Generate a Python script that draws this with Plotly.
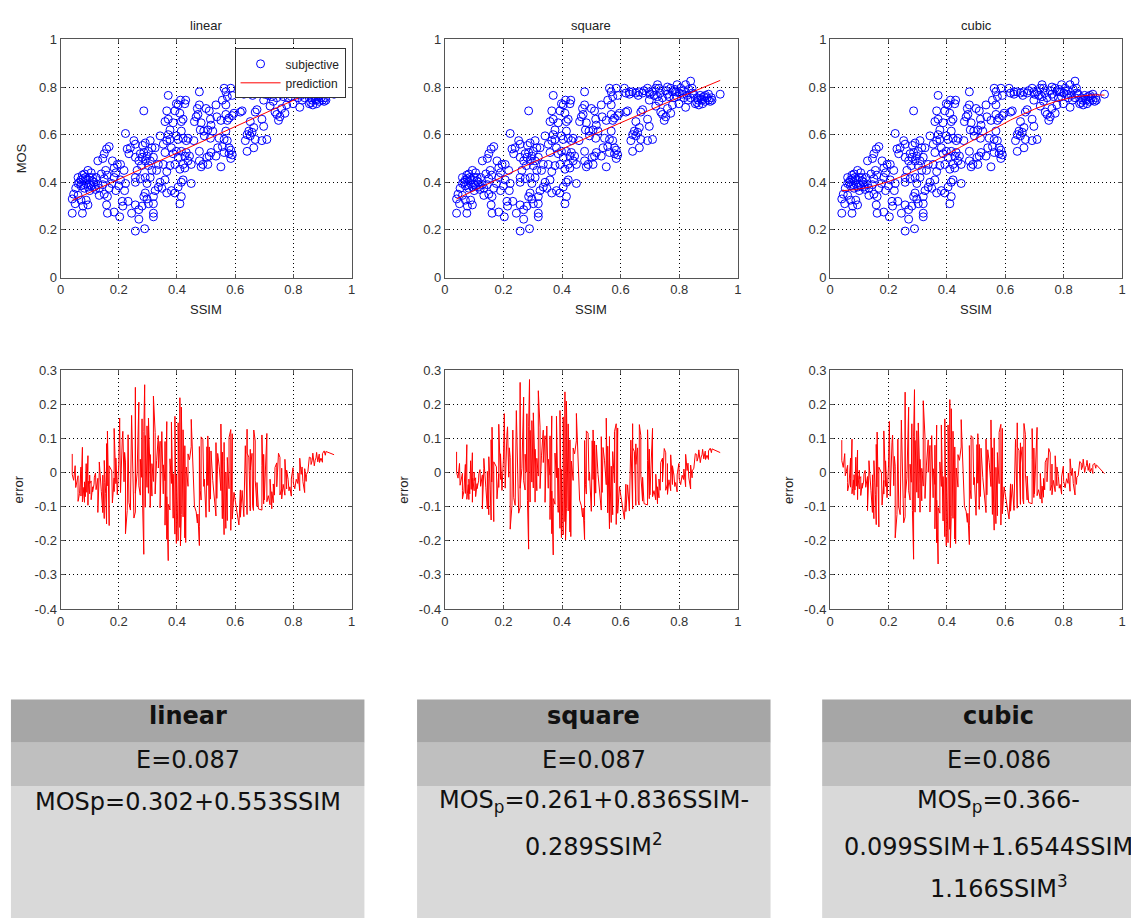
import numpy as np
import plotly.graph_objects as go

# ---------------- data ----------------
ssim = [
    0.040, 0.040, 0.050, 0.045, 0.060, 0.070, 0.077, 0.075, 0.094, 0.088,
    0.065, 0.077, 0.088, 0.100, 0.094, 0.082, 0.105, 0.110, 0.116, 0.122,
    0.070, 0.060, 0.082, 0.100, 0.128, 0.133, 0.052,
    0.070, 0.080, 0.090, 0.100, 0.110, 0.085, 0.095, 0.115, 0.120, 0.060, 0.075, 0.105,
    0.128, 0.145, 0.150, 0.158, 0.167, 0.140, 0.155, 0.150, 0.160, 0.145,
    0.133, 0.150, 0.161, 0.158, 0.161, 0.167, 0.176, 0.184, 0.190, 0.184,
    0.178, 0.195, 0.190, 0.200, 0.206, 0.184, 0.203, 0.212, 0.214, 0.206,
    0.218, 0.223, 0.223, 0.229, 0.235, 0.240, 0.220, 0.232, 0.244, 0.252,
    0.257, 0.257, 0.257, 0.263, 0.257, 0.269, 0.257, 0.269, 0.280, 0.289,
    0.286, 0.257, 0.269, 0.274, 0.280, 0.286, 0.291, 0.297, 0.302, 0.308,
    0.302, 0.278, 0.282, 0.291, 0.308, 0.314, 0.319, 0.314, 0.308, 0.291,
    0.274, 0.297, 0.291, 0.297, 0.286, 0.302, 0.319, 0.319, 0.319, 0.319,
    0.325, 0.336, 0.342, 0.330, 0.336, 0.325, 0.342, 0.353, 0.359, 0.353,
    0.359, 0.365, 0.348, 0.365,
    0.370, 0.365, 0.359, 0.370, 0.376, 0.365, 0.376, 0.370, 0.387, 0.393,
    0.398, 0.404, 0.410, 0.415, 0.421, 0.412, 0.427, 0.430, 0.415, 0.398,
    0.404, 0.421, 0.432, 0.438, 0.381, 0.387, 0.398, 0.404, 0.415, 0.427,
    0.432, 0.438, 0.443, 0.421, 0.410, 0.393, 0.376, 0.381, 0.393, 0.404,
    0.415, 0.421, 0.410, 0.415, 0.427, 0.449, 0.449, 0.458, 0.460, 0.466,
    0.470, 0.472, 0.477, 0.477, 0.483, 0.480, 0.477, 0.477, 0.483, 0.489,
    0.492, 0.494, 0.500, 0.506, 0.503, 0.506, 0.511, 0.515, 0.517, 0.523,
    0.515, 0.511, 0.517, 0.534, 0.537, 0.534, 0.540, 0.545, 0.551, 0.551,
    0.556, 0.562, 0.556, 0.562, 0.568, 0.568, 0.573, 0.568, 0.573, 0.579,
    0.573, 0.579, 0.579, 0.585, 0.590, 0.585, 0.590, 0.596, 0.568, 0.562,
    0.585, 0.590,
    0.613, 0.618, 0.624, 0.618, 0.630, 0.641, 0.652, 0.663, 0.675, 0.641,
    0.635, 0.641, 0.647, 0.652, 0.658, 0.664, 0.652, 0.669, 0.664, 0.675,
    0.669, 0.692, 0.698, 0.698, 0.692, 0.698, 0.692, 0.709, 0.709, 0.714,
    0.720, 0.726, 0.731, 0.731, 0.737, 0.743, 0.749, 0.754, 0.743, 0.754,
    0.760, 0.765, 0.771, 0.777, 0.777, 0.782, 0.788, 0.793, 0.793, 0.799,
    0.805, 0.810, 0.816, 0.822, 0.822, 0.827, 0.833, 0.839, 0.839, 0.844,
    0.850, 0.855, 0.861, 0.867, 0.872, 0.878, 0.884, 0.889, 0.895, 0.900,
    0.906, 0.912, 0.940, 0.760, 0.771, 0.720, 0.726,
    0.630, 0.660, 0.680, 0.700, 0.735, 0.760, 0.785, 0.800, 0.815, 0.830,
    0.845, 0.860, 0.875, 0.890, 0.900, 0.910, 0.880, 0.865,
]
mos = [
    0.270, 0.330, 0.310, 0.350, 0.345, 0.325, 0.300, 0.270, 0.305, 0.325,
    0.400, 0.415, 0.395, 0.420, 0.450, 0.435, 0.385, 0.405, 0.380, 0.420,
    0.385, 0.395, 0.375, 0.365, 0.390, 0.375, 0.375,
    0.410, 0.390, 0.410, 0.390, 0.420, 0.420, 0.380, 0.400, 0.370, 0.420, 0.430, 0.440,
    0.490, 0.500, 0.520, 0.540, 0.550, 0.435, 0.450, 0.415, 0.430, 0.390,
    0.345, 0.350, 0.340, 0.305, 0.270, 0.375, 0.395, 0.420, 0.440, 0.460,
    0.490, 0.475, 0.365, 0.385, 0.410, 0.275, 0.255, 0.320, 0.300, 0.475,
    0.450, 0.395, 0.605, 0.540, 0.520, 0.545, 0.365, 0.320, 0.270, 0.575,
    0.560, 0.420, 0.400, 0.450, 0.305, 0.285, 0.195, 0.245, 0.300, 0.205,
    0.700, 0.505, 0.490, 0.520, 0.505, 0.525, 0.490, 0.510, 0.530, 0.490,
    0.470, 0.470, 0.555, 0.565, 0.575, 0.545, 0.505, 0.450, 0.420, 0.420,
    0.415, 0.395, 0.355, 0.330, 0.340, 0.310, 0.340, 0.310, 0.270, 0.255,
    0.365, 0.380, 0.400, 0.450, 0.475, 0.545, 0.595, 0.560, 0.525, 0.475,
    0.410, 0.355, 0.375, 0.445,
    0.765, 0.700, 0.655, 0.665, 0.620, 0.575, 0.580, 0.600, 0.650, 0.700,
    0.730, 0.725, 0.690, 0.655, 0.665, 0.745, 0.730, 0.745, 0.615, 0.595,
    0.580, 0.585, 0.575, 0.585, 0.545, 0.520, 0.530, 0.505, 0.530, 0.510,
    0.525, 0.490, 0.510, 0.475, 0.455, 0.475, 0.470, 0.365, 0.355, 0.380,
    0.400, 0.410, 0.310, 0.340, 0.460, 0.475, 0.395, 0.575, 0.655, 0.675,
    0.710, 0.685, 0.780, 0.725, 0.650, 0.620, 0.530, 0.490, 0.465, 0.475,
    0.615, 0.595, 0.710, 0.620, 0.505, 0.475, 0.700, 0.665, 0.640, 0.615,
    0.585, 0.510, 0.525, 0.725, 0.675, 0.510, 0.545, 0.585, 0.660, 0.465,
    0.745, 0.795, 0.550, 0.525, 0.780, 0.725, 0.760, 0.685, 0.660, 0.670,
    0.575, 0.545, 0.520, 0.500, 0.515, 0.535, 0.680, 0.690, 0.615, 0.580,
    0.795, 0.765,
    0.795, 0.695, 0.700, 0.775, 0.780, 0.780, 0.775, 0.780, 0.775, 0.530,
    0.575, 0.600, 0.615, 0.595, 0.610, 0.630, 0.655, 0.580, 0.545, 0.705,
    0.695, 0.795, 0.780, 0.745, 0.665, 0.635, 0.575, 0.580, 0.780, 0.765,
    0.795, 0.810, 0.795, 0.740, 0.695, 0.685, 0.660, 0.675, 0.755, 0.785,
    0.770, 0.760, 0.795, 0.780, 0.725, 0.755, 0.780, 0.810, 0.760, 0.730,
    0.795, 0.770, 0.755, 0.810, 0.715, 0.765, 0.790, 0.825, 0.755, 0.795,
    0.770, 0.730, 0.755, 0.725, 0.765, 0.745, 0.760, 0.740, 0.755, 0.770,
    0.740, 0.745, 0.770, 0.710, 0.690, 0.720, 0.760,
    0.770, 0.765, 0.785, 0.770, 0.775, 0.800, 0.790, 0.775, 0.785, 0.745,
    0.775, 0.735, 0.750, 0.765, 0.745, 0.755, 0.730, 0.745,
]

model_names = ["linear", "square", "cubic"]
# polynomial coefficients of each drawn prediction curve (constant term first)
coef_linear = [0.302, 0.553]
coef_square = [0.306, 0.608, -0.056]
coef_cubic = [0.366, -0.099, 1.6544, -1.166]
model_coefs = [coef_linear, coef_square, coef_cubic]

table_err = ["E=0.087", "E=0.087", "E=0.086"]
table_eq = [
    ["MOSp=0.302+0.553SSIM"],
    ["MOS<sub>p</sub>=0.261+0.836SSIM-", "0.289SSIM<sup>2</sup>"],
    ["MOS<sub>p</sub>=0.366-", "0.099SSIM+1.6544SSIM<sup>2</sup>-", "1.166SSIM<sup>3</sup>"],
]

unit_ticks = [0, 0.2, 0.4, 0.6, 0.8, 1.0]
unit_ticklabels = ["0", "0.2", "0.4", "0.6", "0.8", "1"]
err_ticks = [-0.4, -0.3, -0.2, -0.1, 0, 0.1, 0.2, 0.3]
err_ticklabels = ["-0.4", "-0.3", "-0.2", "-0.1", "0", "0.1", "0.2", "0.3"]

# ---------------- geometry ----------------
W, H = 1131, 918
def fx(p):
    return p / W
def fy(p):
    return 1 - p / H

cols_px = [(57, 350), (444, 739), (832, 1126)]
scatter_rows_px = (33, 275)
err_rows_px = (369, 612)

TICK_FONT = dict(family="Liberation Sans, Arial, sans-serif", size=13, color="#333333")
LABEL_FONT = dict(family="Liberation Sans, Arial, sans-serif", size=13, color="#222222")

x = np.array(ssim)
y = np.array(mos)
order = np.argsort(x, kind="stable")
xs = x[order]
ys = y[order]

fig = go.Figure()
layout = dict(
    width=W, height=H, autosize=False,
    margin=dict(l=0, r=0, t=0, b=0),
    paper_bgcolor="white", plot_bgcolor="white",
    showlegend=True,
    legend=dict(
        x=fx(344), y=fy(42), xanchor="right", yanchor="top",
        bgcolor="white", bordercolor="#333333", borderwidth=1,
        font=dict(family="Liberation Sans, Arial, sans-serif", size=12, color="#222222"),
        tracegroupgap=0, itemwidth=40,
    ),
)

def axis_common():
    return dict(
        showgrid=True, gridcolor="black", griddash="1px,3px", gridwidth=1,
        showline=True, mirror="ticks", linecolor="#555555", linewidth=1,
        ticks="inside", ticklen=4, tickcolor="#555555",
        zeroline=False, tickfont=TICK_FONT, fixedrange=True,
    )

annotations = []
shapes = []

for i, name in enumerate(model_names):
    c = model_coefs[i]
    pred = np.polyval(c[::-1], xs)
    err = pred - ys
    l, r = cols_px[i]
    sa = i + 1
    ea = i + 4

    xa = axis_common(); xa.update(domain=[fx(l), fx(r)], range=[0, 1], tickvals=unit_ticks, ticktext=unit_ticklabels, anchor=f"y{sa}")
    ya = axis_common(); ya.update(domain=[fy(scatter_rows_px[1]), fy(scatter_rows_px[0])], range=[0, 1], tickvals=unit_ticks, ticktext=unit_ticklabels, anchor=f"x{sa}")
    layout[f"xaxis{sa}"] = xa
    layout[f"yaxis{sa}"] = ya

    xe = axis_common(); xe.update(domain=[fx(l), fx(r)], range=[0, 1], tickvals=unit_ticks, ticktext=unit_ticklabels, anchor=f"y{ea}")
    ye = axis_common(); ye.update(domain=[fy(err_rows_px[1]), fy(err_rows_px[0])], range=[-0.4, 0.3], tickvals=err_ticks, ticktext=err_ticklabels, anchor=f"x{ea}")
    layout[f"xaxis{ea}"] = xe
    layout[f"yaxis{ea}"] = ye

    xref = "x" if sa == 1 else f"x{sa}"
    yref = "y" if sa == 1 else f"y{sa}"

    fig.add_trace(go.Scatter(
        x=ssim, y=mos, mode="markers", name="subjective",
        marker=dict(symbol="circle-open", size=8, color="#0000ff", line=dict(width=1, color="#0000ff")),
        showlegend=(i == 0), xaxis=xref, yaxis=yref, hoverinfo="skip",
    ))
    fig.add_trace(go.Scatter(
        x=xs, y=pred, mode="lines", name="prediction",
        line=dict(color="#ff0000", width=1),
        showlegend=(i == 0), xaxis=xref, yaxis=yref, hoverinfo="skip",
    ))
    fig.add_trace(go.Scatter(
        x=xs, y=err, mode="lines", name="error",
        line=dict(color="#ff0000", width=1),
        showlegend=False, xaxis=f"x{ea}", yaxis=f"y{ea}", hoverinfo="skip",
    ))

    cx = (l + r) / 2
    annotations.append(dict(text=name, x=fx(cx), y=fy(19), xref="paper", yref="paper",
                            showarrow=False, xanchor="center", yanchor="middle", font=LABEL_FONT))
    annotations.append(dict(text="SSIM", x=fx(cx), y=fy(308), xref="paper", yref="paper",
                            showarrow=False, xanchor="center", yanchor="middle", font=LABEL_FONT))
    annotations.append(dict(text="error", x=fx(l - 42), y=fy((err_rows_px[0] + err_rows_px[1]) / 2),
                            xref="paper", yref="paper", showarrow=False, textangle=-90,
                            xanchor="center", yanchor="middle", font=LABEL_FONT))

annotations.append(dict(text="MOS", x=fx(18), y=fy((scatter_rows_px[0] + scatter_rows_px[1]) / 2),
                        xref="paper", yref="paper", showarrow=False, textangle=-90,
                        xanchor="center", yanchor="middle", font=LABEL_FONT))

# ---------------- tables ----------------
tables_px = [(7, 363), (416, 772), (824, 1180)]
rows_px = [(704, 748, "#a6a6a6"), (748, 792, "#bfbfbf"), (792, 930, "#d9d9d9")]
TABLE_FONT = dict(family="DejaVu Sans, Verdana, sans-serif", size=24, color="#111111")
line_y = [808, 852, 895]

for i, (tl, tr) in enumerate(tables_px):
    for (t, b, col) in rows_px:
        shapes.append(dict(type="rect", xref="paper", yref="paper",
                           x0=fx(tl), x1=fx(tr), y0=fy(b), y1=fy(t),
                           fillcolor=col, line=dict(width=0), layer="below"))
    cx = (tl + tr) / 2
    annotations.append(dict(text=f"<b>{model_names[i]}</b>", x=fx(cx), y=fy(721), xref="paper", yref="paper",
                            showarrow=False, xanchor="center", yanchor="middle", font=TABLE_FONT))
    annotations.append(dict(text=table_err[i], x=fx(cx), y=fy(766), xref="paper", yref="paper",
                            showarrow=False, xanchor="center", yanchor="middle", font=TABLE_FONT))
    for k, line in enumerate(table_eq[i]):
        annotations.append(dict(text=line, x=fx(cx), y=fy(line_y[k]), xref="paper", yref="paper",
                                showarrow=False, xanchor="center", yanchor="middle", font=TABLE_FONT))

layout["annotations"] = annotations
layout["shapes"] = shapes
fig.update_layout(**layout)

fig.write_html("out.html", config={"displayModeBar": False})
